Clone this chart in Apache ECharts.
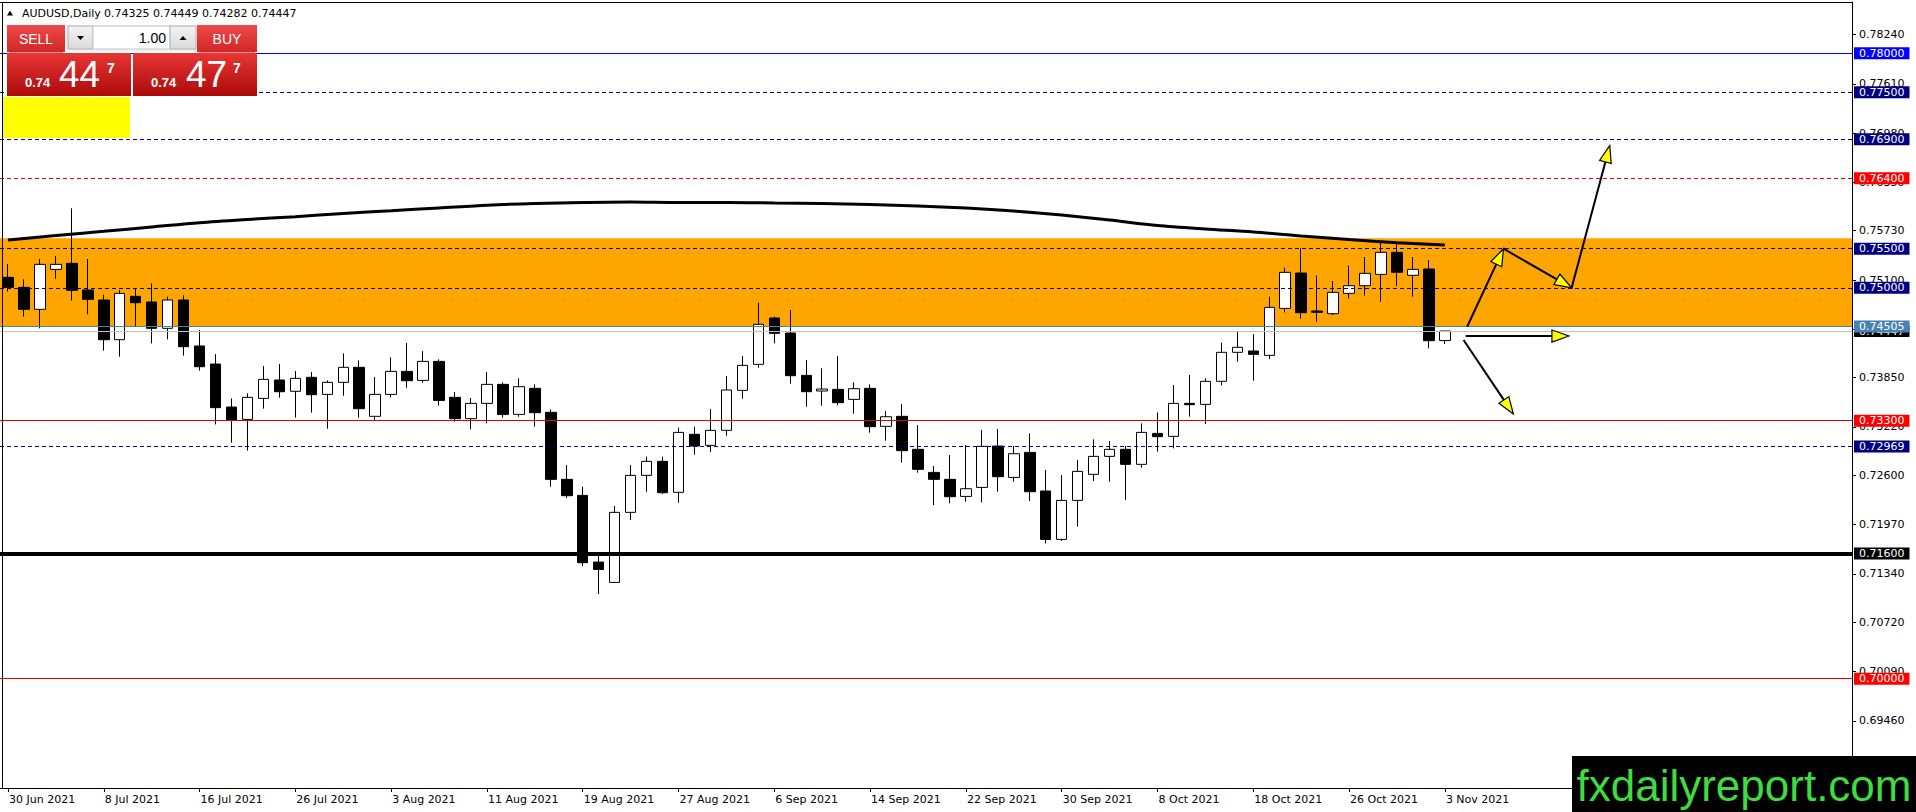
<!DOCTYPE html>
<html><head><meta charset="utf-8">
<script src="https://cdn.jsdelivr.net/npm/echarts@6/dist/echarts.min.js"></script>
<style>html,body{margin:0;padding:0;background:#fff;overflow:hidden}#c{width:1916px;height:812px}</style>
</head><body><div id="c"></div>
<script>
// ---------------- DATA ----------------
const dates = ['30 Jun 2021','1 Jul 2021','2 Jul 2021','5 Jul 2021','6 Jul 2021','7 Jul 2021','8 Jul 2021','9 Jul 2021','12 Jul 2021','13 Jul 2021','14 Jul 2021','15 Jul 2021','16 Jul 2021','19 Jul 2021','20 Jul 2021','21 Jul 2021','22 Jul 2021','23 Jul 2021','26 Jul 2021','27 Jul 2021','28 Jul 2021','29 Jul 2021','30 Jul 2021',
'2 Aug 2021','3 Aug 2021','4 Aug 2021','5 Aug 2021','6 Aug 2021','9 Aug 2021','10 Aug 2021','11 Aug 2021','12 Aug 2021','13 Aug 2021','16 Aug 2021','17 Aug 2021','18 Aug 2021','19 Aug 2021','20 Aug 2021','23 Aug 2021','24 Aug 2021','25 Aug 2021','26 Aug 2021','27 Aug 2021','30 Aug 2021','31 Aug 2021',
'1 Sep 2021','2 Sep 2021','3 Sep 2021','6 Sep 2021','7 Sep 2021','8 Sep 2021','9 Sep 2021','10 Sep 2021','13 Sep 2021','14 Sep 2021','15 Sep 2021','16 Sep 2021','17 Sep 2021','20 Sep 2021','21 Sep 2021','22 Sep 2021','23 Sep 2021','24 Sep 2021','27 Sep 2021','28 Sep 2021','29 Sep 2021','30 Sep 2021',
'1 Oct 2021','4 Oct 2021','5 Oct 2021','6 Oct 2021','7 Oct 2021','8 Oct 2021','11 Oct 2021','12 Oct 2021','13 Oct 2021','14 Oct 2021','15 Oct 2021','18 Oct 2021','19 Oct 2021','20 Oct 2021','21 Oct 2021','22 Oct 2021','25 Oct 2021','26 Oct 2021','27 Oct 2021','28 Oct 2021','29 Oct 2021',
'1 Nov 2021','2 Nov 2021','3 Nov 2021'];
const emptySlots = 25;

const openP = [
0.75134,0.75006,0.74725,0.75236,0.75313,0.74972,0.74844,0.74336,0.74891,0.74818,
0.74482,0.74844,0.74256,0.74025,0.73475,0.73317,0.73586,0.73821,0.73676,0.73855,
0.73637,0.73791,0.73983,0.73356,0.73637,0.73931,0.73816,0.74059,0.73599,0.73326,
0.73522,0.73765,0.73381,0.73714,0.73407,0.72550,0.72345,0.71492,0.71232,0.72128,
0.72601,0.72780,0.72384,0.73126,0.72985,0.73177,0.73688,0.74021,0.74614,0.74422,
0.73880,0.73680,0.73701,0.73573,0.73714,0.73228,0.73356,0.72934,0.72639,0.72550,
0.72332,0.72447,0.72976,0.72575,0.72895,0.72401,0.71782,0.72281,0.72614,0.72844,
0.72934,0.72742,0.73138,0.73100,0.73522,0.73509,0.73804,0.74175,0.74192,0.74136,
0.74737,0.75189,0.74703,0.74669,0.74929,0.75027,0.75172,0.75454,0.75160,0.75241,
0.74325];
const closeP = [
0.75006,0.74725,0.75300,0.75300,0.74968,0.74853,0.74336,0.74929,0.74810,0.74482,
0.74844,0.74247,0.73991,0.73467,0.73309,0.73599,0.73829,0.73671,0.73842,0.73633,
0.73791,0.73983,0.73454,0.73637,0.73931,0.73812,0.74059,0.73560,0.73326,0.73522,
0.73765,0.73381,0.73735,0.73403,0.72550,0.72341,0.71484,0.71398,0.72128,0.72601,
0.72780,0.72379,0.73151,0.72976,0.73177,0.73693,0.74008,0.74533,0.74418,0.73876,
0.73671,0.73705,0.73531,0.73710,0.73224,0.73351,0.72917,0.72678,0.72550,0.72328,
0.72430,0.72972,0.72584,0.72878,0.72392,0.71782,0.72281,0.72652,0.72844,0.72934,
0.72742,0.73151,0.73096,0.73522,0.73505,0.73804,0.74175,0.74239,0.74149,0.74750,
0.75198,0.74682,0.74686,0.74942,0.75027,0.75185,0.75454,0.75198,0.75236,0.74324,
0.74447];
const lowP = [
0.74951,0.74631,0.74482,0.75117,0.74836,0.74661,0.74196,0.74119,0.74511,0.74290,
0.74341,0.74132,0.73940,0.73253,0.73019,0.72917,0.73454,0.73595,0.73339,0.73403,
0.73198,0.73620,0.73339,0.73309,0.73599,0.73722,0.73786,0.73492,0.73288,0.73189,
0.73266,0.73339,0.73351,0.73224,0.72456,0.72311,0.71441,0.71083,0.71228,0.72030,
0.72392,0.72362,0.72251,0.72865,0.72899,0.73108,0.73582,0.73978,0.74290,0.73774,
0.73479,0.73492,0.73497,0.73390,0.73147,0.73044,0.72763,0.72635,0.72221,0.72243,
0.72264,0.72256,0.72392,0.72520,0.72273,0.71731,0.71761,0.71944,0.72529,0.72520,
0.72286,0.72699,0.72904,0.72946,0.73352,0.73258,0.73752,0.74055,0.73812,0.74089,
0.74686,0.74605,0.74567,0.74652,0.74865,0.74900,0.74823,0.75023,0.74887,0.74226,
0.74282];
const highP = [
0.75305,0.75108,0.75369,0.75407,0.76017,0.75369,0.74912,0.74972,0.74985,0.75057,
0.74887,0.74904,0.74460,0.74153,0.73586,0.73650,0.74000,0.74025,0.73936,0.73923,
0.73816,0.74162,0.74072,0.73859,0.74111,0.74294,0.74191,0.74085,0.73667,0.73590,
0.73923,0.73791,0.73842,0.73765,0.73445,0.72733,0.72456,0.71582,0.72209,0.72733,
0.72840,0.72840,0.73211,0.73224,0.73450,0.73872,0.74128,0.74810,0.74631,0.74716,
0.74076,0.73970,0.74128,0.73791,0.73765,0.73424,0.73514,0.73245,0.72720,0.72861,
0.72989,0.73181,0.73194,0.72976,0.73138,0.72669,0.72605,0.72797,0.73062,0.73040,
0.72976,0.73266,0.73407,0.73757,0.73885,0.73842,0.74298,0.74439,0.74409,0.74887,
0.75258,0.75505,0.75155,0.75087,0.75283,0.75394,0.75599,0.75582,0.75394,0.75356,
0.74449];

// moving average read at every third bar
const maBars = [0,3,6,9,12,15,18,21,24,27,30,33,36,39,42,45,48,51,54,57,60,63,66,69,72,75,78,81,84,87,90];
const maValues = [0.75612,0.75669,0.75723,0.75778,0.75833,0.75874,0.75910,0.75951,0.75986,0.76021,
0.76057,0.76079,0.76091,0.76098,0.76091,0.76091,0.76085,0.76079,0.76066,0.76047,
0.76021,0.75983,0.75931,0.75867,0.75797,0.75752,0.75714,0.75663,0.75618,0.75578,0.75547];

const yTicks = [0.78240,0.77610,0.76980,0.76350,0.75730,0.75100,0.74470,0.73850,0.73220,0.72600,0.71970,0.71340,0.70720,0.70090,0.69460];
const yRange = [0.68602, 0.78656];

const levelValues = [0.78000,0.77500,0.76900,0.76400,0.75500,0.75000,0.74447,0.74505,0.73300,0.72969,0.71600,0.70000];
const zoneRange = [0.74505, 0.75633];

// arrows: [fromBar, fromPrice, toBar, toPrice]
const arrowFromBar = [91.4, 93.67, 97.94, 91.3, 91.17];
const arrowFromPrice = [0.74505, 0.75500, 0.75000, 0.74383, 0.74332];
const arrowToBar = [93.67, 97.94, 100.33, 97.77, 94.29];
const arrowToPrice = [0.75500, 0.75000, 0.76820, 0.74383, 0.73385];

const symbolTitle = 'AUDUSD,Daily';
const ohlcText = '0.74325 0.74449 0.74282 0.74447';
const sellQuote = ['0.74', '44', '7'];
const buyQuote = ['0.74', '47', '7'];
const lotText = '1.00';
const watermark = 'fxdailyreport.com';

// ---------------- STYLES ----------------
const NAVY = '#000080', RED = '#ff0000';
const levelStyles = [
  {line:'#0000ff', type:'solid', w:1, bg:'#0000ff'},
  {line:NAVY, type:[4,3], w:1, bg:NAVY},
  {line:NAVY, type:[4,3], w:1, bg:NAVY},
  {line:RED, type:[4,3], w:1, bg:RED},
  {line:NAVY, type:[4,3], w:1, bg:NAVY},
  {line:NAVY, type:[4,3], w:1, bg:NAVY},
  {line:'#c0c0c0', type:'solid', w:1, bg:'#000000'},
  {line:'#4682b4', type:'solid', w:1, bg:'#4682b4'},
  {line:'#e00000', type:'solid', w:1, bg:RED},
  {line:NAVY, type:[4,3], w:1, bg:NAVY},
  {line:'#000000', type:'solid', w:4, bg:'#000000'},
  {line:'#e00000', type:'solid', w:1, bg:RED}
];
const FONT = 'DejaVu Sans';
const cats = dates.concat(new Array(emptySlots).fill(''));
const lastIdx = dates.length - 1;
const labelEvery = (i) => i % 6 === 0 && i <= lastIdx;

const chart = echarts.init(document.getElementById('c'), null, {renderer:'svg'});

function grad(top, bot){
  return {type:'linear', x:0, y:0, x2:0, y2:1, colorStops:[{offset:0,color:top},{offset:1,color:bot}]};
}

const arrowData = arrowFromBar.map((b,k)=>[b, arrowFromPrice[k], arrowToBar[k], arrowToPrice[k]]);

function renderArrow(params, api){
  const s = api.coord([api.value(0), api.value(1)]);
  const e = api.coord([api.value(2), api.value(3)]);
  const dx = e[0]-s[0], dy = e[1]-s[1];
  const len = Math.sqrt(dx*dx+dy*dy);
  const ux = dx/len, uy = dy/len;
  const L = 17, W = 6;
  const bx = e[0]-ux*L, by = e[1]-uy*L;
  const nx = -uy, ny = ux;
  return {type:'group', children:[
    {type:'line', shape:{x1:s[0], y1:s[1], x2:bx+ux*2, y2:by+uy*2}, style:{stroke:'#000', lineWidth:2}},
    {type:'polygon', shape:{points:[[e[0],e[1]],[bx+nx*W,by+ny*W],[bx-nx*W,by-ny*W]]}, style:{fill:'#ffff00', stroke:'#000', lineWidth:1.2}}
  ]};
}

const whiteText = (txt, x, y, font, align) => ({type:'text', z:101, style:{text:txt, x:x, y:y, font:font, fill:'#fff', align:align||'left', verticalAlign:'middle'}});

const option = {
  animation: false,
  backgroundColor: '#ffffff',
  grid: {left:-4, right:64, top:2, bottom:24, containLabel:false},
  xAxis: [
    {type:'category', data:cats, boundaryGap:true,
     axisLine:{show:true, onZero:false, lineStyle:{color:'#000', width:1}},
     axisTick:{show:true, alignWithLabel:true, interval:labelEvery, length:4, lineStyle:{color:'#000'}},
     axisLabel:{interval:labelEvery, align:'left', margin:6, color:'#000', fontFamily:FONT, fontSize:11, padding:[0,0,0,1]},
     splitLine:{show:false}},
    {type:'value', min:-0.5, max:cats.length-0.5, position:'top',
     axisLine:{show:true, onZero:false, lineStyle:{color:'#000', width:1}},
     axisTick:{show:false}, axisLabel:{show:false}, splitLine:{show:false}}
  ],
  yAxis: [{type:'value', position:'right', min:yRange[0], max:yRange[1], scale:true,
     axisLine:{show:true, onZero:false, lineStyle:{color:'#000', width:1}},
     axisTick:{show:true, length:4, customValues:yTicks, lineStyle:{color:'#000'}},
     axisLabel:{show:true, customValues:yTicks, formatter:(v)=>v.toFixed(5), margin:7, color:'#000', fontFamily:FONT, fontSize:11},
     splitLine:{show:false}}],
  series: [
    {type:'line', name:'zone', data:[], z:1, clip:false, silent:true,
     markArea:{silent:true, precision:5, itemStyle:{color:'#ffa500', opacity:1},
       data:[[{yAxis:zoneRange[0]},{yAxis:zoneRange[1]}]]}},
    {type:'candlestick', name:'AUDUSD', z:3,
     data: openP.map((o,i)=>[o, closeP[i], lowP[i], highP[i]]),
     barWidth: 11,
     itemStyle:{color:'#ffffff', color0:'#000000', borderColor:'#000000', borderColor0:'#000000', borderColorDoji:'#000000', borderWidth:1}},
    {type:'line', name:'MA', xAxisIndex:1, z:4, smooth:0.3, symbol:'none', silent:true,
     data: maBars.map((b,k)=>[b, maValues[k]]),
     lineStyle:{color:'#000', width:3}},
    {type:'line', name:'levels', data:[], z:5, clip:false, silent:true,
     markLine:{silent:true, precision:5, symbol:['none','none'], animation:false,
       data: levelValues.map((v,k)=>({yAxis:v,
         lineStyle:{color:levelStyles[k].line, width:levelStyles[k].w, type:levelStyles[k].type},
         label:{show:true, position:'end', formatter:v.toFixed(5), color:'#fff', backgroundColor:levelStyles[k].bg,
                padding:[1,5,0,5], distance:2, fontFamily:FONT, fontSize:11, lineHeight:11}}))}},
    {type:'custom', name:'arrows', xAxisIndex:1, z:6, clip:false, silent:true,
     encode:{x:[0,2], y:[1,3]}, data:arrowData, renderItem:renderArrow}
  ],
  graphic: [
    {type:'line', z:100, shape:{x1:2.5, y1:2, x2:2.5, y2:788}, style:{stroke:'#000', lineWidth:1}},
    {type:'rect', z:100, shape:{x:3, y:97, width:127, height:41}, style:{fill:'#ffff00'}},
    // header
    {type:'polygon', z:100, shape:{points:[[7,15.5],[13,15.5],[10,10.5]]}, style:{fill:'#000'}},
    {type:'text', z:100, style:{text:symbolTitle, x:22, y:13, font:'11px "DejaVu Sans"', fill:'#000', verticalAlign:'middle'}},
    {type:'text', z:100, style:{text:ohlcText, x:104, y:13, font:'11px "DejaVu Sans"', fill:'#000', verticalAlign:'middle'}},
    // SELL / BUY buttons
    {type:'rect', z:100, shape:{x:7, y:25, width:58, height:27}, style:{fill:grad('#ee4a4a','#d02626')}},
    {type:'rect', z:100, shape:{x:197, y:25, width:60, height:27}, style:{fill:grad('#ee4a4a','#d02626')}},
    whiteText('SELL', 36, 38.5, '14px "Liberation Sans"', 'center'),
    whiteText('BUY', 227, 38.5, '14px "Liberation Sans"', 'center'),
    // lot control
    {type:'rect', z:100, shape:{x:65, y:25, width:132, height:26}, style:{fill:'#f0f0f0'}},
    {type:'rect', z:100, shape:{x:68, y:26, width:25, height:23}, style:{fill:grad('#f4f4f4','#dadada'), stroke:'#b0b0b0', lineWidth:1}},
    {type:'rect', z:100, shape:{x:93, y:26, width:77, height:23}, style:{fill:'#ffffff', stroke:'#c8c8c8', lineWidth:1}},
    {type:'rect', z:100, shape:{x:170, y:26, width:26, height:23}, style:{fill:grad('#f4f4f4','#dadada'), stroke:'#b0b0b0', lineWidth:1}},
    {type:'polygon', z:101, shape:{points:[[77,36],[84,36],[80.5,40]]}, style:{fill:'#000'}},
    {type:'polygon', z:101, shape:{points:[[179.5,40],[186.5,40],[183,36]]}, style:{fill:'#000'}},
    {type:'text', z:101, style:{text:lotText, x:166, y:37.5, font:'14px "Liberation Sans"', fill:'#000', align:'right', verticalAlign:'middle'}},
    // price boxes
    {type:'rect', z:100, shape:{x:7, y:53, width:124, height:43}, style:{fill:grad('#e83636','#ac0a0a')}},
    {type:'rect', z:100, shape:{x:133, y:53, width:124, height:43}, style:{fill:grad('#e83636','#ac0a0a')}},
    {type:'line', z:101, shape:{x1:9, y1:52.5, x2:63, y2:52.5}, style:{stroke:'#f29090', lineWidth:1}},
    {type:'line', z:101, shape:{x1:199, y1:52.5, x2:255, y2:52.5}, style:{stroke:'#f29090', lineWidth:1}},
    whiteText(sellQuote[0], 25, 82, 'bold 13px "Liberation Sans"'),
    whiteText(sellQuote[1], 59, 74.5, '37px "Liberation Sans"'),
    whiteText(sellQuote[2], 107, 67.5, 'bold 14px "Liberation Sans"'),
    whiteText(buyQuote[0], 151, 82, 'bold 13px "Liberation Sans"'),
    whiteText(buyQuote[1], 186, 74.5, '37px "Liberation Sans"'),
    whiteText(buyQuote[2], 233, 67.5, 'bold 14px "Liberation Sans"'),
    // watermark
    {type:'rect', z:100, shape:{x:1572, y:756, width:344, height:56}, style:{fill:'#000'}},
    {type:'text', z:101, style:{text:watermark, x:1744, y:785, font:'44px "Liberation Sans"', fill:'#3fdc3f', align:'center', verticalAlign:'middle'}}
  ]
};
chart.setOption(option);
</script>
</body></html>
